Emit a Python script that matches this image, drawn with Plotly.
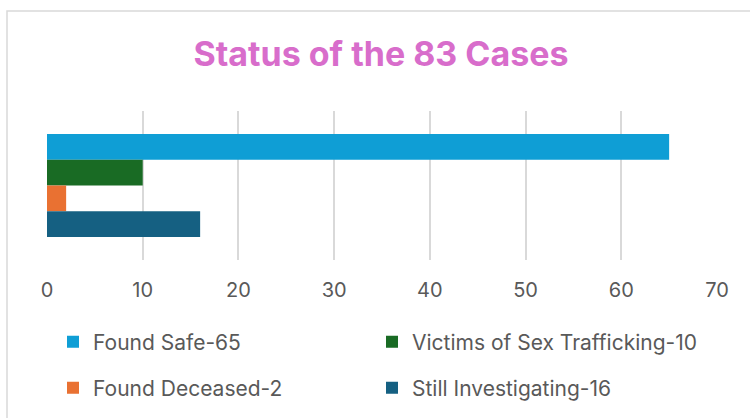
import plotly.graph_objects as go

# ---- data ----
categories = ["Found Safe-65", "Victims of Sex Trafficking-10", "Found Deceased-2", "Still Investigating-16"]
values = [65, 10, 2, 16]
colors = ["#0F9ED5", "#196B24", "#E97132", "#156082"]
tick_vals = [0, 10, 20, 30, 40, 50, 60, 70]
title_text = "Status of the 83 Cases"

W, H = 750, 418
L, R, T, B = 47, 33, 111, 158
pw, ph = W - L - R, H - T - B

def px_x(px):
    return (px - L) / pw

def px_y(py):
    return (H - B - py) / ph

legend_ids = ["legend", "legend2", "legend3", "legend4"]
# legend slot positions (left of entry, row centre) in pixels
legend_pos = [(53, 342), (372, 342), (53, 388), (372, 388)]

fig = go.Figure()
for name, v, c, lid in zip(categories, values, colors, legend_ids):
    fig.add_trace(go.Bar(
        y=["Status"], x=[v], name=name, orientation="h",
        marker=dict(color=c, line=dict(width=0)),
        legend=lid,
        hoverinfo="x+name",
    ))

font_family = "Inter, Lato, sans-serif"
legend_common = dict(
    orientation="h", xanchor="left", yanchor="middle",
    font=dict(family=font_family, size=21, color="#595959"),
    bgcolor="rgba(0,0,0,0)", borderwidth=0, itemclick=False,
)
legend_layout = {lid: dict(x=px_x(px), y=px_y(py), **legend_common)
                 for lid, (px, py) in zip(legend_ids, legend_pos)}

fig.update_layout(
    width=W, height=H,
    margin=dict(l=L, r=R, t=T, b=B, autoexpand=False),
    paper_bgcolor="white", plot_bgcolor="white",
    barmode="group", bargap=0.31, bargroupgap=0,
    title=dict(text=title_text, x=381 / W, xanchor="center",
               y=1 - 54 / H, yanchor="middle",
               font=dict(family=font_family, size=34, color="#D86DCB", weight="bold")),
    xaxis=dict(range=[0, 70], tickvals=tick_vals, showgrid=True,
               gridcolor="#D9D9D9", gridwidth=1.5, zeroline=False,
               showline=False, ticks="", ticklabelstandoff=16,
               tickfont=dict(family=font_family, size=20, color="#595959")),
    yaxis=dict(autorange="reversed", showticklabels=False, showgrid=False,
               zeroline=False, showline=False, ticks=""),
    showlegend=True,
    shapes=[dict(type="rect", xref="paper", yref="paper",
                 x0=px_x(7), x1=px_x(770), y0=px_y(440), y1=px_y(11),
                 line=dict(color="#D9D9D9", width=1.5), fillcolor="rgba(0,0,0,0)",
                 layer="below")],
    **legend_layout,
)

fig.write_html("out.html",
               config={"displayModeBar": False},
               post_script="document.body.style.margin='0';document.body.style.padding='0';document.body.style.overflow='hidden';")
